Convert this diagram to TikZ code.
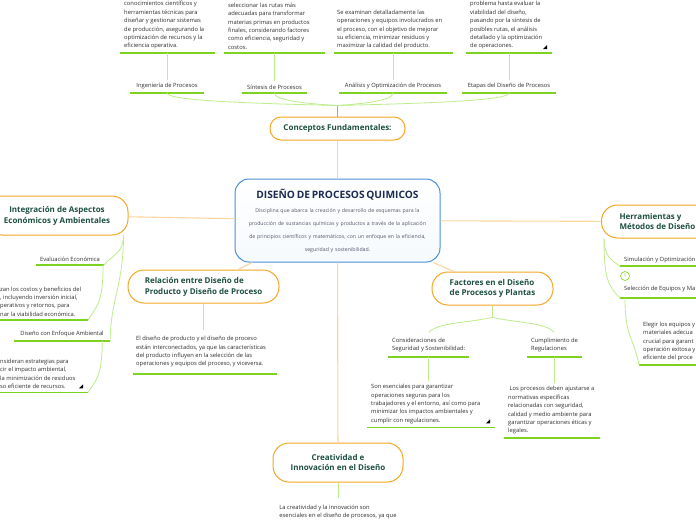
\documentclass[tikz,border=0pt]{standalone}
\usepackage{fontspec}
\setmainfont{Open Sans}
\usepackage{xcolor}
\usetikzlibrary{positioning}
\definecolor{mmorange}{HTML}{F5A623}
\definecolor{mmpeach}{HTML}{FBD6A0}
\definecolor{mmblue}{HTML}{4A90D9}
\definecolor{mmnavy}{HTML}{1C2B50}
\definecolor{mmlime}{HTML}{7ED321}
\definecolor{twiggreen}{HTML}{BDEC8A}
\definecolor{topicgreen}{HTML}{1E4F42}
\definecolor{bodygray}{HTML}{2E2E2E}
\definecolor{descgray}{HTML}{55586A}
% small "more text" marker at the end of an underline
\newcommand{\moretip}[2]{\fill[black] ([shift={(#2-5,-4)}]#1.south west) -- ++(-4,0) -- ++(4,-4) -- cycle;}

\begin{document}
\begin{tikzpicture}[x=1pt, y=-1pt,
  core/.style={draw=mmblue, line width=1pt, rounded corners=14pt, top color=white,
    bottom color=mmblue!5, minimum width=205pt, minimum height=83pt, text width=195pt,
    inner xsep=5pt, align=center, font=\fontsize{5.2}{13}\selectfont, text=descgray},
  topic/.style={draw=mmorange, line width=1pt, fill=white, rounded corners=16pt,
    inner xsep=8pt, font=\fontsize{8}{10.8}\selectfont\bfseries, text=topicgreen},
  notebox/.style={inner xsep=4pt, inner ysep=3.5pt, align=left,
    font=\fontsize{5.8}{8.4}\selectfont, text=bodygray},
  branch/.style={draw=mmpeach, line width=1.1pt},
  twig/.style={draw=twiggreen, line width=0.8pt},
  uline/.style={draw=mmlime, line width=1.3pt},
]
\useasboundingbox (0,0) rectangle (696,520);
\fill[white] (0,0) rectangle (696,520);

% central idea
\node[core] (core) at (337.5,220.5) {{\fontsize{10.2}{11}\selectfont\bfseries\color{mmnavy}DISEÑO DE PROCESOS QUIMICOS}\\[1pt]
  Disciplina que abarca la creación y desarrollo de esquemas para la\\
  producción de sustancias químicas y productos a través de la aplicación\\
  de principios científicos y matemáticos, con un enfoque en la eficiencia,\\
  seguridad y sostenibilidad.};

% main topics
\node[topic, minimum width=135pt, minimum height=23pt, rounded corners=11pt] (concepts) at (337.5,128.5) {Conceptos Fundamentales:};
\node[topic, minimum width=142pt, minimum height=39pt, align=center] (integ) at (57,215.5) {Integración de Aspectos\\Económicos y Ambientales};
\node[topic, minimum width=151pt, minimum height=33pt, align=left] (relation) at (203.5,286.5) {Relación entre Diseño de\\Producto y Diseño de Proceso};
\node[topic, minimum width=121pt, minimum height=33pt, align=left] (factors) at (492.5,288.5) {Factores en el Diseño\\de Procesos y Plantas};
\node[topic, minimum height=33pt, inner xsep=18pt, align=left, anchor=west] (tools) at (601,221.5) {Herramientas y\\Métodos de Diseño};
\node[topic, minimum width=130pt, minimum height=39pt, align=center] (creative) at (338,462.5) {Creatividad e\\Innovación en el Diseño};

% subtopics
\node[notebox, minimum width=74pt, anchor=south] (proceng) at (167,93) {Ingeniería de Procesos};
\node[notebox, minimum width=65pt, anchor=south] (synth) at (274.5,93) {Síntesis de Procesos};
\node[notebox, minimum width=108pt, anchor=south] (optim) at (393,93) {Análisis y Optimización de Procesos};
\node[notebox, minimum width=94pt, anchor=south] (stages) at (509,93) {Etapas del Diseño de Procesos};
\node[notebox, minimum width=66pt, anchor=south] (econ) at (70,265) {Evaluación Económica};
\node[notebox, minimum width=96pt, anchor=south] (enviro) at (62,341) {Diseño con Enfoque Ambiental};
\node[notebox, inner ysep=5pt, anchor=south west] (safety) at (388,357) {Consideraciones de\\Seguridad y Sostenibilidad:};
\node[notebox, inner ysep=5pt, anchor=south west] (regul) at (527,357) {Cumplimiento de\\Regulaciones};
\node[notebox, inner ysep=2.5pt, anchor=south west] (simul) at (620,266) {Simulación y Optimización};
\node[notebox, inner ysep=5.5pt, anchor=south west] (select) at (620,298) {Selección de Equipos y Ma};
\node[circle, draw=mmlime, line width=0.6pt, minimum size=9pt, inner sep=0pt,
  font=\fontsize{5}{5}\selectfont, text=mmlime] (simulmore) at ([xshift=5pt,yshift=-10pt]simul.south west) {1};

% notes
\node[notebox, anchor=south west] (engtxt) at (120,53) {conocimientos científicos y\\
  herramientas técnicas para\\
  diseñar y gestionar sistemas\\
  de producción, asegurando la\\
  optimización de recursos y la\\
  eficiencia operativa.};
\node[notebox, anchor=south west] (synthtxt) at (224,53) {seleccionar las rutas más\\
  adecuadas para transformar\\
  materias primas en productos\\
  finales, considerando factores\\
  como eficiencia, seguridad y\\
  costos.};
\node[notebox, anchor=south west, inner xsep=3pt] (optimtxt) at (334,53) {Se examinan detalladamente las\\
  operaciones y equipos involucrados en\\
  el proceso, con el objetivo de mejorar\\
  su eficiencia, minimizar residuos y\\
  maximizar la calidad del producto.};
\node[notebox, anchor=south west] (stagestxt) at (466,53) {problema hasta evaluar la\\
  viabilidad del diseño,\\
  pasando por la síntesis de\\
  posibles rutas, el análisis\\
  detallado y la optimización\\
  de operaciones.};
\node[notebox, anchor=south west] (econtxt) at (-4,320) {zan los costos y beneficios del\\
  , incluyendo inversión inicial,\\
  perativos y retornos, para\\
  nar la viabilidad económica.};
\node[notebox, anchor=south west] (envirotxt) at (-4,392.3) {nsideran estrategias para\\
  cir el impacto ambiental,\\
  la minimización de residuos\\
  so eficiente de recursos.};
\node[notebox, anchor=south west, inner xsep=3pt, inner ysep=6.5pt] (relationtxt) at (133,374) {El diseño de producto y el diseño de proceso\\
  están interconectados, ya que las características\\
  del producto influyen en la selección de las\\
  operaciones y equipos del proceso, y viceversa.};
\node[notebox, anchor=south west] (safetytxt) at (367,427.3) {Son esenciales para garantizar\\
  operaciones seguras para los\\
  trabajadores y el entorno, así como para\\
  minimizar los impactos ambientales y\\
  cumplir con regulaciones.};
\node[notebox, anchor=south west] (regultxt) at (504,438) {\ Los procesos deben ajustarse a\\
  normativas específicas\\
  relacionadas con seguridad,\\
  calidad y medio ambiente para\\
  garantizar operaciones éticas y\\
  legales.};
\node[notebox, anchor=south west] (selecttxt) at (639,365) {Elegir los equipos y\\
  materiales adecua\\
  crucial para garant\\
  operación exitosa y\\
  eficiente del proce};
\node[notebox, inner ysep=7pt, below=15pt of creative] (creativetxt) {La creatividad y la innovación son\\
  esenciales en el diseño de procesos, ya que};

% underlines
\foreach \n in {proceng, synth, optim, stages, econ, enviro, safety, regul}
  \draw[uline] (\n.south west) -- (\n.south east);
\foreach \n/\w in {engtxt/95, synthtxt/101, optimtxt/119, stagestxt/86, econtxt/92, envirotxt/92,
  relationtxt/144, safetytxt/128, regultxt/96, selecttxt/70, simul/90, select/90}
  \draw[uline] (\n.south west) -- ++(\w,0);
\moretip{stagestxt}{86}
\moretip{envirotxt}{92}
\moretip{safetytxt}{128}

% hub to main topics
\foreach \t in {concepts, integ, relation, factors, tools, creative}
  \draw[branch] (core) -- (\t);

% conceptos
\coordinate (topfork) at ([yshift=11pt]concepts.north);
\draw[uline, line width=1.8pt] (concepts.north) -- (topfork);
\draw[twig] (proceng.south) .. controls +(0,8) and +(-80,-2) .. (topfork);
\draw[twig] (synth.south) .. controls +(0,7) and +(-35,-2) .. (topfork);
\draw[twig] (optim.south) .. controls +(0,7) and +(30,-2) .. (topfork);
\draw[twig] (stages.south) .. controls +(0,8) and +(80,-2) .. (topfork);
\foreach \s/\n in {proceng/engtxt, synth/synthtxt, optim/optimtxt, stages/stagestxt}
  \draw[twig] (\s.north) -- (\s.north |- \n.south);

% integracion
\coordinate (integfoot) at ([xshift=-5pt]integ.south east);
\draw[twig] (integfoot) .. controls +(0,18) and +(8,-10) .. (econ.south east);
\draw[twig] (integfoot) .. controls +(0,50) and +(0,-40) .. (enviro.south east);
\draw[twig] ([xshift=-1pt]econ.south east) .. controls +(0,35) and +(10,-15) .. ([xshift=92pt]econtxt.south west);
\draw[twig] ([xshift=-8pt]enviro.south east) .. controls +(0,35) and +(8,-12) .. ([xshift=92pt]envirotxt.south west);

% relacion
\draw[twig] (relation.south) -- (relation.south |- relationtxt.north);

% factores
\coordinate (factfork) at ([yshift=-12pt]factors.south);
\draw[twig] (factors.south) -- (factfork);
\draw[twig] (factfork) .. controls +(-30,6) and +(10,-10) .. (safety.north);
\draw[twig] (factfork) .. controls +(30,6) and +(-10,-10) .. (regul.north);
\draw[twig] (safety.south) -- (safety.south |- safetytxt.north);
\draw[twig] (regul.south) -- (regul.south |- regultxt.north);

% herramientas
\coordinate (toolsfoot) at ([xshift=3pt]tools.south west);
\draw[twig] (toolsfoot) .. controls +(0,16) and +(-10,-6) .. (simul.south west);
\draw[twig] (toolsfoot) .. controls +(0,40) and +(-12,-12) .. (select.south west);
\draw[twig] ([xshift=5pt]select.south west) .. controls +(0,40) and +(-6,-30) .. (selecttxt.south west);

% creatividad
\draw[twig] (creative.south) -- (creativetxt.north);
\end{tikzpicture}
\end{document}
